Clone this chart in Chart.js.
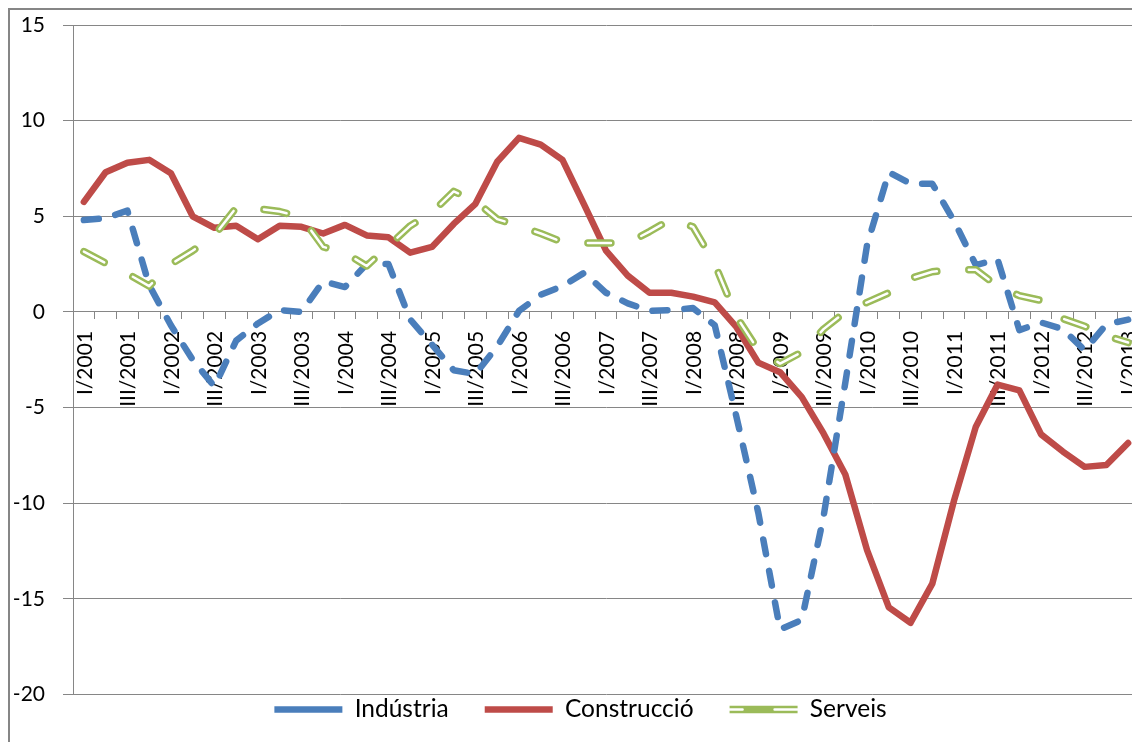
<!DOCTYPE html>
<html><head><meta charset="utf-8">
<script src="https://cdn.jsdelivr.net/npm/chart.js@4.4.1/dist/chart.umd.min.js"></script>
<style>
html,body{margin:0;padding:0;background:#fff;overflow:hidden;width:1132px;height:742px;}
#frame{position:absolute;left:8px;top:8px;width:1142px;height:760px;border-left:2px solid #868686;border-top:2px solid #868686;}
canvas{display:block;}
</style></head><body>
<div id="frame"><canvas id="c" width="1142" height="760"></canvas></div>
<script>
const categories = [
  'I/2001','II/2001','III/2001','IV/2001',
  'I/2002','II/2002','III/2002','IV/2002',
  'I/2003','II/2003','III/2003','IV/2003',
  'I/2004','II/2004','III/2004','IV/2004',
  'I/2005','II/2005','III/2005','IV/2005',
  'I/2006','II/2006','III/2006','IV/2006',
  'I/2007','II/2007','III/2007','IV/2007',
  'I/2008','II/2008','III/2008','IV/2008',
  'I/2009','II/2009','III/2009','IV/2009',
  'I/2010','II/2010','III/2010','IV/2010',
  'I/2011','II/2011','III/2011','IV/2011',
  'I/2012','II/2012','III/2012','IV/2012',
  'I/2013'
];
const industria = [
  4.8, 4.9, 5.3, 1.4, -0.7, -2.5, -3.9, -1.5, -0.6, 0.1,
  0.0, 1.6, 1.3, 2.5, 2.5, -0.4, -1.7, -3.05, -3.25, -1.8,
  0.05, 0.9, 1.35, 2.05, 1.0, 0.45, 0.05, 0.1, 0.2, -0.7,
  -5.5, -10.5, -16.6, -16.1, -10.7, -3.7, 3.5, 7.3, 6.7, 6.7,
  4.75, 2.45, 2.75, -0.95, -0.55, -0.9, -2.0, -0.65, -0.4
];
const construccio = [
  5.75, 7.3, 7.8, 7.95, 7.25, 5.0, 4.4, 4.5, 3.8, 4.5,
  4.45, 4.1, 4.55, 4.0, 3.9, 3.1, 3.4, 4.6, 5.65, 7.85,
  9.1, 8.75, 7.95, 5.6, 3.2, 1.9, 1.0, 1.0, 0.8, 0.5,
  -0.8, -2.65, -3.15, -4.45, -6.35, -8.5, -12.45, -15.45, -16.25, -14.2,
  -9.85, -6.0, -3.8, -4.1, -6.4, -7.3, -8.1, -8.0, -6.85
];
const serveis = [
  3.15, 2.55, 2.0, 1.35, 2.5, 3.2, 4.0, 5.45, 5.4, 5.25,
  4.95, 3.4, 3.1, 2.4, 3.45, 4.5, 5.2, 6.3, 5.8, 4.85,
  4.5, 4.1, 3.65, 3.6, 3.6, 3.6, 4.2, 4.85, 4.45, 2.5,
  -0.25, -2.0, -2.7, -2.1, -0.9, 0.0, 0.5, 1.0, 1.75, 2.1,
  2.2, 2.2, 1.35, 0.85, 0.6, -0.35, -0.75, -1.25, -1.6
];
const yTickValues = [-20, -15, -10, -5, 0, 5, 10, 15];
const seriesNames = ['Indústria', 'Construcció', 'Serveis'];

const GRID = '#868686';
const FONT = 'Lato';

const legendPlace = {
  id: 'legendPlace',
  afterLayout(chart) {
    const lg = chart.legend;
    if (!lg) return;
    const pad = lg.options.labels.padding;
    const fs = lg.options.labels.font.size;
    const dy = (chart.chartArea.bottom + 15) - (lg.top + pad + fs / 2);
    const dx = 6;
    lg.top += dy; lg.bottom += dy;
    lg.left += dx; lg.right += dx;
  },
  afterDraw(chart) {
    const lg = chart.legend;
    if (!lg || !lg.legendHitBoxes) return;
    const ctx = chart.ctx;
    const w = lg.options.labels.pointStyleWidth;
    lg.legendItems.forEach((it, i) => {
      const ds = chart.data.datasets[it.datasetIndex];
      if (!ds.innerLine) return;
      const hb = lg.legendHitBoxes[i];
      const cx = hb.left + w / 2, cy = hb.top + hb.height / 2;
      ctx.save();
      ctx.strokeStyle = ds.innerLine.color;
      ctx.lineWidth = ds.innerLine.width;
      ctx.lineCap = 'round';
      ctx.setLineDash(ds.borderDash || []);
      ctx.beginPath();
      ctx.moveTo(cx + w / 2, cy);
      ctx.lineTo(cx - w / 2, cy);
      ctx.stroke();
      ctx.restore();
    });
  }
};

new Chart(document.getElementById('c'), {
  type: 'line',
  data: {
    labels: categories,
    datasets: [
      { label: seriesNames[0], data: industria, borderColor: '#4a7ebb', backgroundColor: '#4a7ebb',
        borderWidth: 6.5, borderDash: [15, 17], borderCapStyle: 'round', borderJoinStyle: 'round',
        pointRadius: 0, pointStyle: 'line', tension: 0, fill: false, order: 2 },
      { label: seriesNames[1], data: construccio, borderColor: '#be4b48', backgroundColor: '#be4b48',
        borderWidth: 6.5, borderCapStyle: 'round', borderJoinStyle: 'round',
        pointRadius: 0, pointStyle: 'line', tension: 0, fill: false, order: 3 },
      { label: seriesNames[2], data: serveis, borderColor: '#9bbb59', backgroundColor: '#9bbb59',
        borderWidth: 7.5, borderDash: [23, 32], borderCapStyle: 'round', borderJoinStyle: 'round',
        pointRadius: 0, pointStyle: 'line', tension: 0, fill: false, order: 1,
        innerLine: { color: '#ffffff', width: 2.5 } },
      { label: '_inner', data: serveis, borderColor: '#ffffff', backgroundColor: '#ffffff',
        borderWidth: 2.5, borderDash: [23, 32], borderCapStyle: 'round', borderJoinStyle: 'round',
        pointRadius: 0, pointStyle: 'line', tension: 0, fill: false, order: 0 }
    ]
  },
  options: {
    responsive: false,
    animation: false,
    events: [],
    layout: { padding: { left: 0, top: 15, right: 13, bottom: 5 } },
    plugins: {
      tooltip: { enabled: false },
      title: { display: false },
      legend: {
        display: true,
        position: 'bottom',
        labels: {
          usePointStyle: true,
          pointStyleWidth: 68,
          padding: 36,
          color: '#000',
          font: { family: FONT, size: 24.5 },
          filter: (item) => !item.text.startsWith('_'),
          sort: (a, b) => a.datasetIndex - b.datasetIndex
        }
      }
    },
    scales: {
      x: {
        type: 'category',
        offset: true,
        position: { y: 0 },
        afterFit: (s) => { s.paddingLeft = 0; s.paddingRight = 0; },
        grid: { offset: true, drawOnChartArea: false, drawTicks: true, tickLength: 7, color: GRID, lineWidth: 1 },
        border: { display: true, color: GRID, width: 1 },
        ticks: {
          autoSkip: false, minRotation: 90, maxRotation: 90, padding: 12, labelOffset: 1,
          color: '#000', font: { family: FONT, size: 21 },
          callback: (v, i) => (i % 2 === 0 ? categories[i] : '')
        }
      },
      y: {
        position: 'left',
        min: yTickValues[0],
        max: yTickValues[yTickValues.length - 1],
        afterBuildTicks: (s) => { s.ticks = yTickValues.map(v => ({ value: v })); },
        afterFit: (s) => { s.width = 63; s.paddingTop = 10; s.paddingBottom = 10; },
        grid: { color: GRID, lineWidth: 1, drawTicks: true, tickLength: 10 },
        border: { display: true, color: GRID, width: 1 },
        ticks: { padding: 18, color: '#000', font: { family: FONT, size: 21 } }
      }
    }
  },
  plugins: [legendPlace]
});
</script>
</body></html>
